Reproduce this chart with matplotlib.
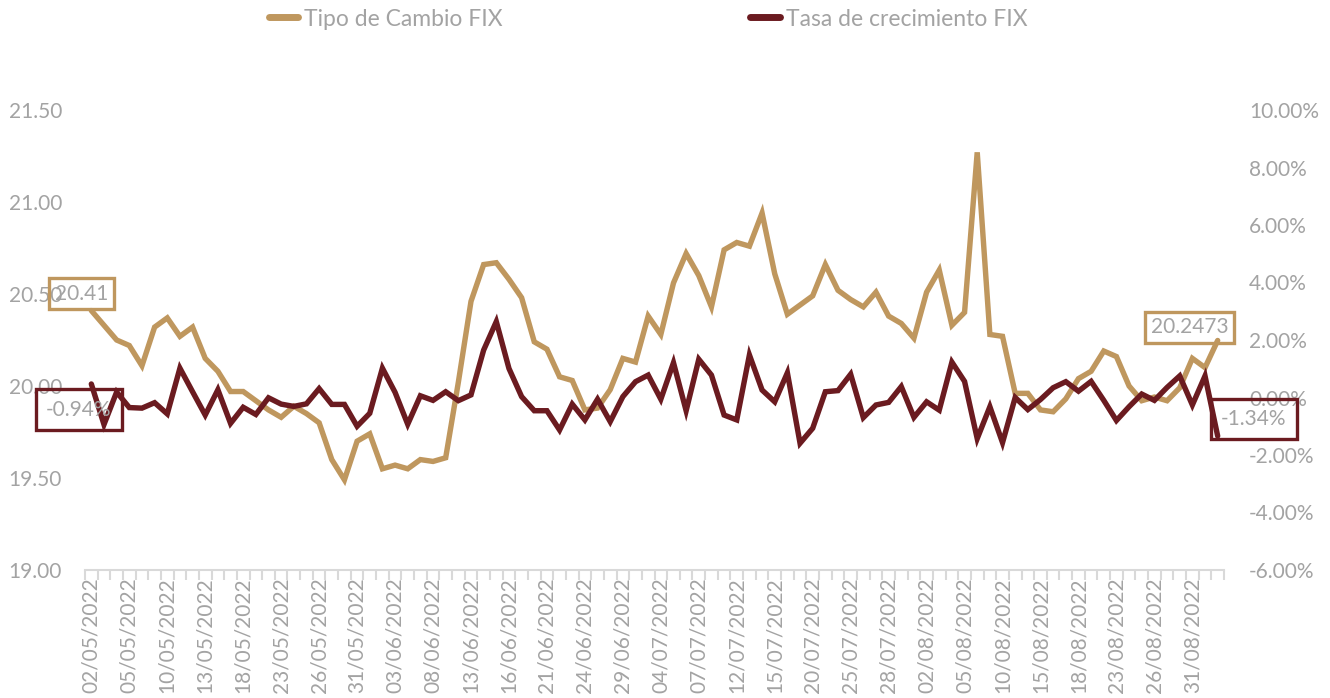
import matplotlib
matplotlib.use("Agg")
import matplotlib.pyplot as plt
import pandas as pd
from matplotlib.lines import Line2D

# ---- data ----
dates = pd.bdate_range("2022-05-02", "2022-09-02")
date_labels = [d.strftime("%d/%m/%Y") for d in dates]

tipo_cambio = [
    20.41, 20.33, 20.25, 20.22, 20.11, 20.32, 20.37, 20.27, 20.32, 20.15,
    20.08, 19.97, 19.97, 19.92, 19.87, 19.83, 19.89, 19.85, 19.80, 19.60,
    19.49, 19.70, 19.74, 19.55, 19.57, 19.55, 19.60, 19.59, 19.61, 20.02,
    20.46, 20.66, 20.67, 20.58, 20.48, 20.24, 20.20, 20.05, 20.03, 19.87,
    19.88, 19.98, 20.15, 20.13, 20.38, 20.28, 20.56, 20.72, 20.60, 20.43,
    20.74, 20.78, 20.76, 20.94, 20.61, 20.39, 20.44, 20.49, 20.66, 20.52,
    20.47, 20.43, 20.51, 20.38, 20.34, 20.26, 20.51, 20.63, 20.33, 20.40,
    21.27, 20.28, 20.27, 19.96, 19.96, 19.87, 19.86, 19.93, 20.04, 20.08,
    20.19, 20.16, 20.00, 19.92, 19.94, 19.92, 19.99, 20.15, 20.10, 20.2473,
]

tasa_crecimiento = [
    0.47, -0.94, 0.19, -0.35, -0.37, -0.18, -0.57, 1.02, 0.20, -0.61,
    0.27, -0.90, -0.34, -0.59, -0.01, -0.23, -0.31, -0.22, 0.31, -0.24,
    -0.24, -1.00, -0.55, 1.02, 0.18, -0.93, 0.06, -0.10, 0.20, -0.11,
    0.09, 1.65, 2.64, 1.01, 0.03, -0.46, -0.46, -1.13, -0.23, -0.78,
    -0.06, -0.84, 0.03, 0.55, 0.78, -0.06, 1.21, -0.46, 1.33, 0.78,
    -0.61, -0.78, 1.48, 0.26, -0.15, 0.86, -1.59, -1.07, 0.20, 0.24,
    0.81, -0.70, -0.26, -0.17, 0.38, -0.69, -0.15, -0.44, 1.23, 0.56,
    -1.43, -0.32, -1.57, 0.00, -0.42, -0.07, 0.34, 0.55, 0.22, 0.56,
    -0.10, -0.80, -0.32, 0.12, -0.10, 0.35, 0.75, -0.26, 0.75, -1.34,
]

left_ticks = [19.0, 19.5, 20.0, 20.5, 21.0, 21.5]
right_ticks = [-6, -4, -2, 0, 2, 4, 6, 8, 10]

series_names = ["Tipo de Cambio FIX", "Tasa de crecimiento FIX"]

# ---- style ----
GOLD = "#BF975E"
MAROON = "#6B1B20"
TXT = "#A3A3A3"
AXC = "#D9D9D9"
FONT = ["Lato", "DejaVu Sans"]
FS = 15

plt.rcParams["font.family"] = FONT

fig = plt.figure(figsize=(13.30, 6.98), dpi=100)
ax = fig.add_axes([85 / 1330, 1 - 570 / 698, (1224 - 85) / 1330, (570 - 110) / 698])
ax2 = ax.twinx()

x = list(range(len(dates)))
ax.plot(x, tipo_cambio, color=GOLD, lw=3.9, solid_joinstyle="miter", solid_capstyle="round")
ax2.plot(x, tasa_crecimiento, color=MAROON, lw=3.9, solid_joinstyle="miter", solid_capstyle="round")

ax.set_xlim(-0.5, len(dates) - 0.5)
ax.set_ylim(19.0, 21.5)
ax2.set_ylim(-6, 10)

ax.set_yticks(left_ticks)
ax.set_yticklabels([f"{v:.2f}" for v in left_ticks])
ax2.set_yticks(right_ticks)
ax2.set_yticklabels([f"{v:.2f}%" for v in right_ticks])

ax.set_xticks(x[::3])
ax.set_xticklabels(date_labels[::3], rotation=90)
ax.set_xticks([i - 0.5 for i in range(len(dates) + 1)], minor=True)
ax.tick_params(axis="x", which="major", length=0, pad=5.5, labelsize=FS, labelcolor=TXT)
ax.tick_params(axis="x", which="minor", length=7, width=1.5, color=AXC)
ax.tick_params(axis="y", length=0, pad=16.5, labelsize=FS, labelcolor=TXT)
ax2.tick_params(axis="y", length=0, pad=18, labelsize=FS, labelcolor=TXT)

for a in (ax, ax2):
    for s in ("top", "left", "right", "bottom"):
        a.spines[s].set_visible(False)
ax.spines["bottom"].set_visible(True)
ax.spines["bottom"].set_color(AXC)
ax.spines["bottom"].set_linewidth(1.5)

# data labels
def label(axis, i, val, text, color, dx, dy, padx):
    axis.annotate(text, xy=(i, val), xytext=(dx * 0.72, dy * 0.72), textcoords="offset points",
                  ha="center", va="center", fontsize=FS, color=TXT,
                  bbox=dict(boxstyle=f"square,pad={padx}", fc="none", ec=color, lw=2.4))

label(ax, 0, tipo_cambio[0], f"{tipo_cambio[0]:.2f}", GOLD, -10, 17, 0.28)
label(ax2, 1, tasa_crecimiento[1], f"{tasa_crecimiento[1]:.2f}%", MAROON, -25, 15, 0.5)
label(ax, 89, tipo_cambio[89], f"{tipo_cambio[89]:.4f}", GOLD, -28, 13, 0.28)
label(ax2, 89, tasa_crecimiento[89], f"{tasa_crecimiento[89]:.2f}%", MAROON, 36, 17, 0.5)

# legend
handles = [Line2D([], [], color=GOLD, lw=5, solid_capstyle="round"),
           Line2D([], [], color=MAROON, lw=5, solid_capstyle="round")]
leg = fig.legend(handles, series_names, loc="center", bbox_to_anchor=(648 / 1330, 1 - 19 / 698),
                 ncol=2, frameon=False, fontsize=16.5, handlelength=1.3, handletextpad=0.25,
                 columnspacing=10.8, labelcolor=TXT)

fig.savefig("out.png", dpi=100)
